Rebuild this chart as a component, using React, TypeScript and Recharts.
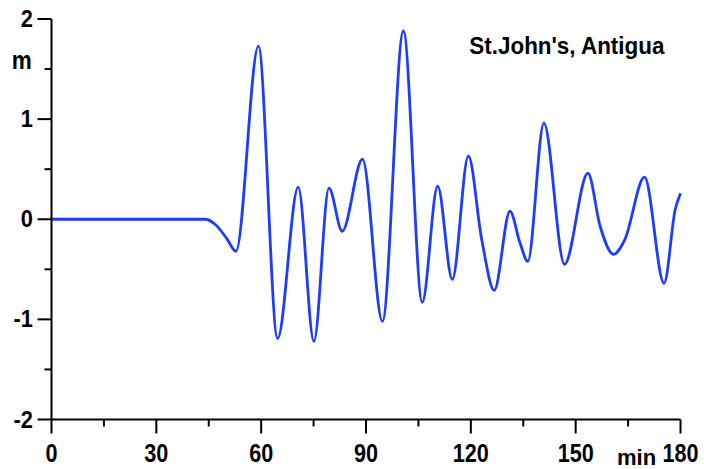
import React from "react";
import { LineChart, Line, XAxis, YAxis } from "recharts";

// Tide-gauge record: time since event (min) and sea level (m)
const times = [
  0, 44, 46.8, 50.1, 52.8, 59.2, 64.7, 70.6, 75.1, 79.4,
  83.2, 89.0, 94.7, 100.7, 106.1, 110.5, 114.7, 119.3, 123.1, 126.7, 131.2,
  134.1, 136.3, 140.9, 146.8, 153.5, 157.0, 160.8, 164.1, 169.7, 175.3, 178.5, 180,
];
const heights = [
  0, 0, -0.05, -0.19, -0.32, 1.73, -1.19, 0.32, -1.22, 0.31,
  -0.12, 0.6, -1.02, 1.88, -0.83, 0.33, -0.6, 0.63, -0.2, -0.71, 0.08,
  -0.24, -0.42, 0.96, -0.45, 0.46, -0.07, -0.35, -0.2, 0.42, -0.64, 0.1, 0.26,
];

const xTicks = [0, 15, 30, 45, 60, 75, 90, 105, 120, 135, 150, 165, 180];
const yTicks = [-2, -1.5, -1, -0.5, 0, 0.5, 1, 1.5, 2];

const title = "St.John's, Antigua";
const yUnit = "m";
const xUnit = "min";

const data = times.map((t, i) => ({ t, h: heights[i] }));

const FONT = "'Liberation Sans', Arial, Helvetica, sans-serif";

const XTick = (props: any) => {
  const { x, y, payload } = props;
  const v = payload.value as number;
  const major = v % 30 === 0;
  return (
    <g>
      <line x1={x} y1={y} x2={x} y2={y + (major ? 14 : 7)} stroke="#000" strokeWidth={2} />
      {major && (
        <text
          transform={`translate(${x},${y + 42}) scale(0.83,1)`}
          textAnchor="middle"
          fontFamily={FONT}
          fontWeight="bold"
          fontSize={26}
          fill="#000"
        >
          {v}
        </text>
      )}
    </g>
  );
};

const YTick = (props: any) => {
  const { x, y, payload } = props;
  const v = payload.value as number;
  const major = Number.isInteger(v);
  return (
    <g>
      <line x1={x} y1={y} x2={x - (major ? 14 : 7)} y2={y} stroke="#000" strokeWidth={2} />
      {major && (
        <text
          transform={`translate(${x - 18.5},${y + 8}) scale(0.95,1)`}
          textAnchor="end"
          fontFamily={FONT}
          fontWeight="bold"
          fontSize={23}
          fill="#000"
        >
          {v}
        </text>
      )}
    </g>
  );
};

export default function App() {
  return (
    <div style={{ position: "absolute", left: 0, top: 0, width: 704, height: 469, background: "#fff" }}>
      <LineChart width={704} height={469} data={data} margin={{ top: 19, right: 23.5, bottom: 19.5, left: 0 }}>
        <XAxis
          dataKey="t"
          type="number"
          domain={[0, 180]}
          ticks={xTicks}
          interval={0}
          height={30}
          tickSize={0}
          tickMargin={0}
          tickLine={false}
          axisLine={{ stroke: "#000", strokeWidth: 2 }}
          tick={<XTick />}
        />
        <YAxis
          type="number"
          domain={[-2, 2]}
          ticks={yTicks}
          interval={0}
          width={51.5}
          tickSize={0}
          tickMargin={0}
          tickLine={false}
          axisLine={{ stroke: "#000", strokeWidth: 2 }}
          tick={<YTick />}
        />
        <Line
          type="monotone"
          dataKey="h"
          stroke="#1c3cff"
          strokeWidth={2.8}
          dot={false}
          isAnimationActive={false}
        />
      </LineChart>
      <svg
        width={704}
        height={469}
        style={{ position: "absolute", left: 0, top: 0, pointerEvents: "none" }}
      >
        <text
          transform="translate(469.3,54.3) scale(0.935,1)"
          fontFamily={FONT}
          fontWeight="bold"
          fontSize={24}
          fill="#000"
        >
          {title}
        </text>
        <text
          transform="translate(11.7,69) scale(0.9,1)"
          fontFamily={FONT}
          fontWeight="bold"
          fontSize={25}
          fill="#000"
        >
          {yUnit}
        </text>
        <text x={617} y={465} fontFamily={FONT} fontWeight="bold" fontSize={22} fill="#000">
          {xUnit}
        </text>
      </svg>
    </div>
  );
}
